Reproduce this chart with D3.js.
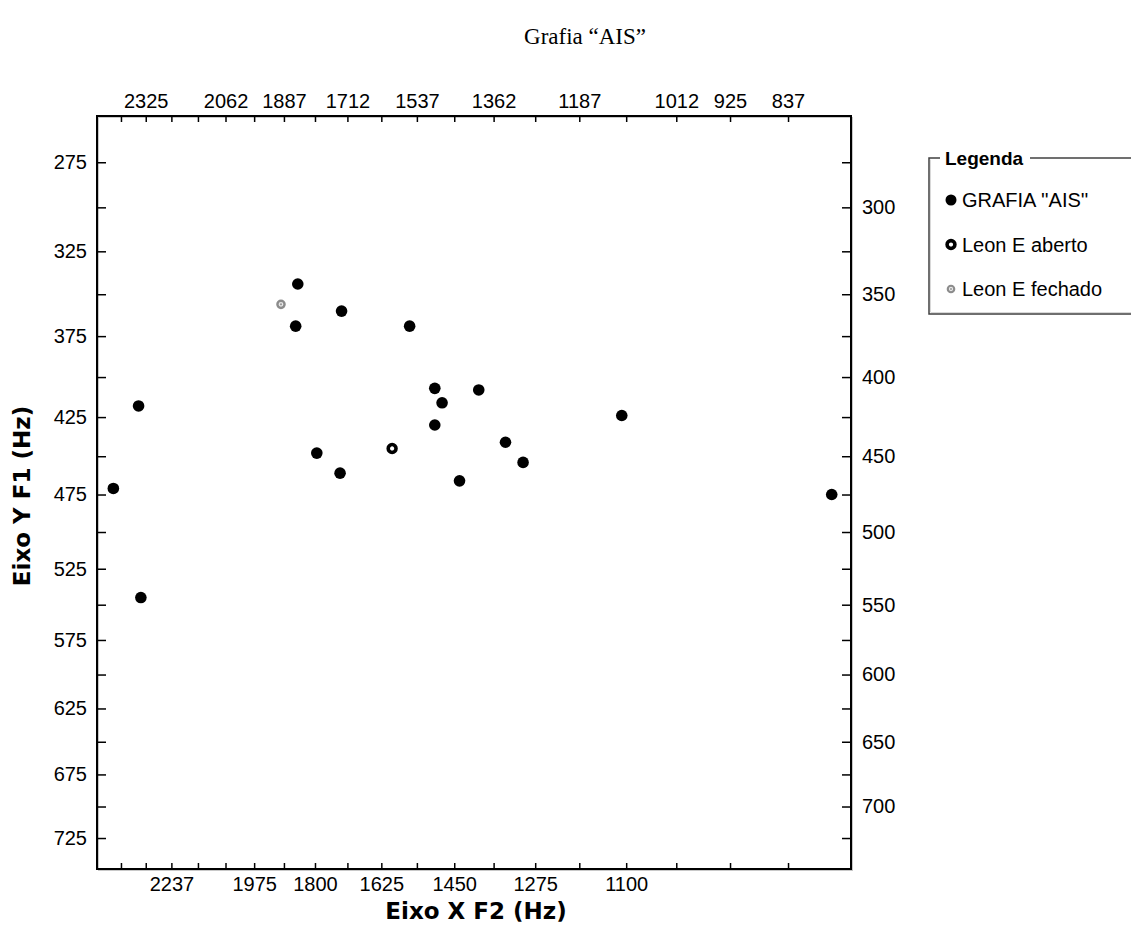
<!DOCTYPE html>
<html>
<head>
<meta charset="utf-8">
<script src="https://cdn.jsdelivr.net/npm/d3@7"></script>
<style>
  html, body { margin: 0; padding: 0; background: #fff; }
  svg { display: block; }
  .tick text { font-family: "Liberation Sans", Arial, sans-serif; font-size: 20px; fill: #000; }
  .tick line { stroke: #000; stroke-width: 1.5; }
</style>
</head>
<body>
<svg id="chart" width="1131" height="935"></svg>
<script>
// F2 (Hz) and F1 (Hz) for each vowel token
const grafiaF2 = [2440, 2350, 2342, 1848, 1854, 1728, 1555, 1495, 1478, 1395, 1495, 1795, 1732, 1337, 1300, 1438, 1108, 776];
const grafiaF1 = [471, 418, 545, 344, 369, 360, 369, 407, 416, 408, 430, 448, 461, 441, 454, 466, 424, 475];
const abertoF2 = [1598];
const abertoF1 = [445];
const fechadoF2 = [1896];
const fechadoF1 = [356];

// Axis ticks (every 87.5 Hz on F2, every 25 Hz on F1)
const xTickValues = [2412.5, 2325, 2237.5, 2150, 2062.5, 1975, 1887.5, 1800, 1712.5, 1625, 1537.5, 1450, 1362.5, 1275, 1187.5, 1100, 1012.5, 925, 837.5];
const xTopLabels = [2325, 2062.5, 1887.5, 1712.5, 1537.5, 1362.5, 1187.5, 1012.5, 925, 837.5];
const xBottomLabels = [2237.5, 1975, 1800, 1625, 1450, 1275, 1100];
const yTickValues = [275, 300, 325, 350, 375, 400, 425, 450, 475, 500, 525, 550, 575, 600, 625, 650, 675, 700, 725];
const yLeftLabels = [275, 325, 375, 425, 475, 525, 575, 625, 675, 725];
const yRightLabels = [300, 350, 400, 450, 500, 550, 600, 650, 700];

const legendItems = ["GRAFIA ''AIS''", "Leon E aberto", "Leon E fechado"];

const svg = d3.select("#chart");
const plot = { left: 97, right: 851, top: 116, bottom: 869 };

// F2 on an ERB-like warped scale, F1 on a mel-like warped scale
const x = d3.scaleSymlog().constant(228.8).domain([2500, 750]).range([plot.left, plot.right]);
const y = d3.scaleSymlog().constant(700).domain([250, 750]).range([plot.top, plot.bottom]);

const fmt = (set) => (v) => set.includes(v) ? String(Math.floor(v)) : "";

// Title
svg.append("text")
  .attr("x", 585).attr("y", 44)
  .attr("text-anchor", "middle")
  .style("font-family", "'Liberation Serif', 'Times New Roman', serif")
  .style("font-size", "23px")
  .text("Grafia \u201CAIS\u201D");

// Frame with a light bevel
svg.append("rect")
  .attr("x", plot.left + 1.5).attr("y", plot.top + 1.5)
  .attr("width", plot.right - plot.left).attr("height", plot.bottom - plot.top)
  .attr("fill", "none").attr("stroke", "#c8c8c8").attr("stroke-width", 1);

// Axes
function styleAxis(g) {
  g.select(".domain").remove();
}
svg.append("g").attr("transform", `translate(0,${plot.top})`)
  .call(d3.axisTop(x).tickValues(xTickValues).tickFormat(fmt(xTopLabels)).tickSize(-6).tickPadding(8))
  .call(styleAxis);
svg.append("g").attr("transform", `translate(0,${plot.bottom})`)
  .call(d3.axisBottom(x).tickValues(xTickValues).tickFormat(fmt(xBottomLabels)).tickSize(-6).tickPadding(8))
  .call(styleAxis);
svg.append("g").attr("transform", `translate(${plot.left},0)`)
  .call(d3.axisLeft(y).tickValues(yTickValues).tickFormat(fmt(yLeftLabels)).tickSize(-9).tickPadding(10))
  .call(styleAxis);
svg.append("g").attr("transform", `translate(${plot.right},0)`)
  .call(d3.axisRight(y).tickValues(yTickValues).tickFormat(fmt(yRightLabels)).tickSize(-9).tickPadding(11))
  .call(styleAxis);

svg.append("rect")
  .attr("x", plot.left).attr("y", plot.top)
  .attr("width", plot.right - plot.left).attr("height", plot.bottom - plot.top)
  .attr("fill", "none").attr("stroke", "#000").attr("stroke-width", 2);

// Axis titles
svg.append("text")
  .attr("x", 476).attr("y", 919)
  .attr("text-anchor", "middle")
  .style("font-family", "'DejaVu Sans', Verdana, sans-serif")
  .style("font-size", "23px").style("font-weight", "bold")
  .text("Eixo X F2 (Hz)");
svg.append("text")
  .attr("transform", "translate(30,496) rotate(-90)")
  .attr("text-anchor", "middle")
  .style("font-family", "'DejaVu Sans', Verdana, sans-serif")
  .style("font-size", "23px").style("font-weight", "bold")
  .text("Eixo Y F1 (Hz)");

// Marker drawers
function filled(g, r) {
  g.append("circle").attr("r", r).attr("fill", "#000");
}
function openRing(g, s) {
  g.append("circle").attr("r", 3.9 * s).attr("fill", "#fff").attr("stroke", "#000").attr("stroke-width", 3.6 * s);
}
function grayRing(g, s) {
  g.append("circle").attr("r", 3.6 * s).attr("fill", "#e8e8e8").attr("stroke", "#8c8c8c").attr("stroke-width", 2.4 * s);
  g.append("circle").attr("r", 1.1 * s).attr("fill", "#9a9a9a");
}

const pts = svg.append("g");
grafiaF2.forEach((f2, i) => {
  filled(pts.append("g").attr("transform", `translate(${x(f2)},${y(grafiaF1[i])})`), 5.8);
});
abertoF2.forEach((f2, i) => {
  openRing(pts.append("g").attr("transform", `translate(${x(f2)},${y(abertoF1[i])})`), 1);
});
fechadoF2.forEach((f2, i) => {
  grayRing(pts.append("g").attr("transform", `translate(${x(f2)},${y(fechadoF1[i])})`), 1);
});

// Legend
const lg = svg.append("g").attr("transform", "translate(929,158)");
lg.append("path")
  .attr("d", "M11,0 H0 V156 H205")
  .attr("fill", "none").attr("stroke", "#404040").attr("stroke-width", 1.5);
lg.append("path")
  .attr("d", "M1.5,1.5 V154.5 M2,154.5 H205")
  .attr("fill", "none").attr("stroke", "#d8d8d8").attr("stroke-width", 1);
lg.append("line").attr("x1", 101).attr("x2", 205).attr("y1", 0).attr("y2", 0)
  .attr("stroke", "#404040").attr("stroke-width", 1.5);
lg.append("text").attr("x", 16).attr("y", 0).attr("dy", "0.35em")
  .style("font-family", "'Liberation Sans', Arial, sans-serif")
  .style("font-size", "19px").style("font-weight", "bold")
  .text("Legenda");
const markers = [(g) => filled(g, 5.5), (g) => openRing(g, 1), (g) => grayRing(g, 0.9)];
legendItems.forEach((name, i) => {
  const row = lg.append("g").attr("transform", `translate(0,${42 + i * 44.5})`);
  markers[i](row.append("g").attr("transform", "translate(22,0)"));
  row.append("text").attr("x", 33).attr("y", 0).attr("dy", "0.35em")
    .style("font-family", "'Liberation Sans', Arial, sans-serif")
    .style("font-size", "20px")
    .text(name);
});
</script>
</body>
</html>
